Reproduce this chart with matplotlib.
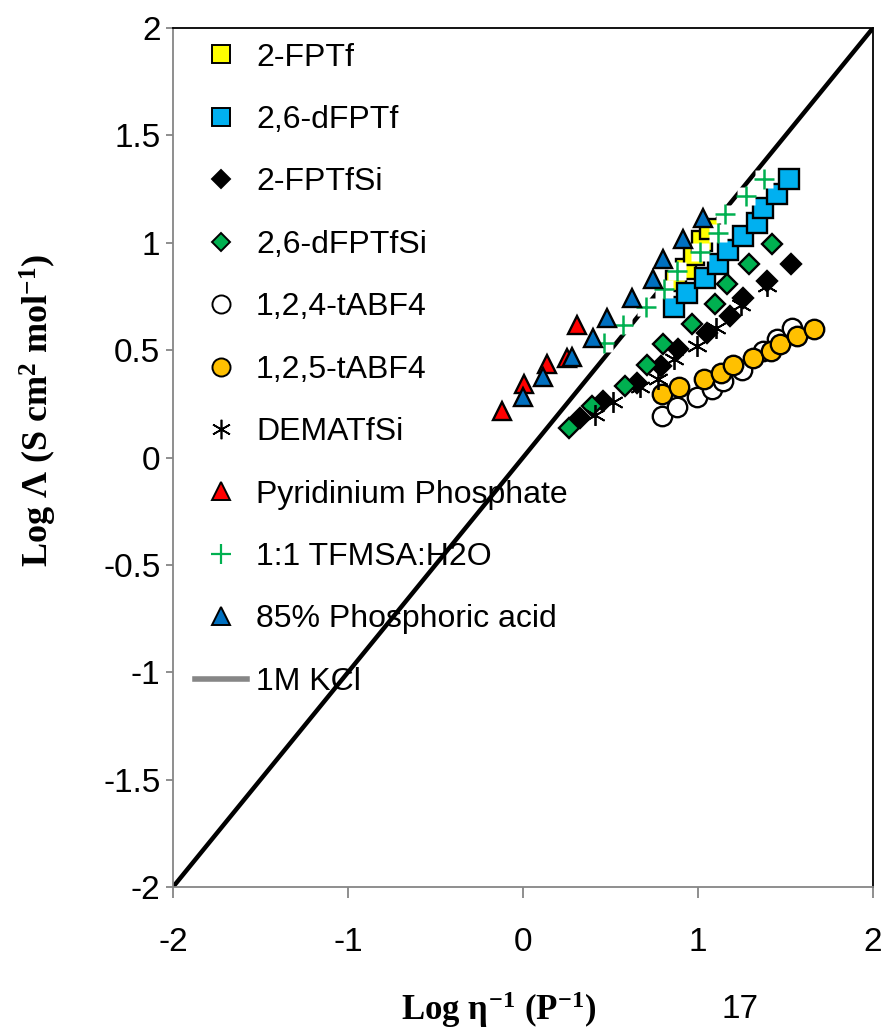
import matplotlib
matplotlib.use("Agg")
import matplotlib.pyplot as plt
from matplotlib.lines import Line2D

plt.rcParams['font.family'] = ['Liberation Sans', 'DejaVu Sans']
plt.rcParams['mathtext.fontset'] = 'custom'
plt.rcParams['mathtext.rm'] = 'Liberation Serif:bold'
plt.rcParams['mathtext.it'] = 'Liberation Serif:bold'
plt.rcParams['mathtext.bf'] = 'Liberation Serif:bold'

# Log(1/viscosity) vs Log(molar conductivity) for each electrolyte
fptf_x = [0.874, 0.931, 0.977, 1.023, 1.069]
fptf_y = [0.822, 0.879, 0.944, 1.009, 1.065]

dfptf_x = [0.863, 0.937, 1.040, 1.114, 1.171, 1.257, 1.337, 1.371, 1.451, 1.520]
dfptf_y = [0.701, 0.766, 0.836, 0.902, 0.967, 1.033, 1.093, 1.164, 1.229, 1.299]

fptfsi_x = [0.326, 0.457, 0.651, 0.789, 0.886, 1.051, 1.183, 1.257, 1.394, 1.531]
fptfsi_y = [0.182, 0.262, 0.346, 0.425, 0.505, 0.579, 0.659, 0.743, 0.822, 0.902]

dfptfsi_x = [0.263, 0.394, 0.583, 0.709, 0.800, 0.966, 1.097, 1.166, 1.291, 1.423]
dfptfsi_y = [0.136, 0.238, 0.332, 0.430, 0.528, 0.621, 0.715, 0.808, 0.902, 0.995]

tabf4_124_x = [0.794, 0.880, 0.994, 1.080, 1.143, 1.251, 1.371, 1.451, 1.537]
tabf4_124_y = [0.192, 0.234, 0.280, 0.318, 0.355, 0.407, 0.495, 0.551, 0.603]

tabf4_125_x = [0.794, 0.891, 1.034, 1.131, 1.200, 1.314, 1.417, 1.469, 1.566, 1.663]
tabf4_125_y = [0.294, 0.327, 0.364, 0.393, 0.430, 0.463, 0.495, 0.528, 0.565, 0.598]

demat_x = [0.411, 0.514, 0.669, 0.771, 0.863, 0.994, 1.103, 1.246, 1.394]
demat_y = [0.200, 0.257, 0.327, 0.364, 0.458, 0.519, 0.603, 0.710, 0.799]

pyr_x = [-0.120, 0.006, 0.137, 0.251, 0.309]
pyr_y = [0.215, 0.341, 0.435, 0.463, 0.617]

tfmsa_x = [0.463, 0.571, 0.703, 0.806, 0.880, 1.011, 1.114, 1.154, 1.274, 1.377]
tfmsa_y = [0.533, 0.617, 0.701, 0.785, 0.869, 0.958, 1.047, 1.136, 1.220, 1.299]

h3po4_x = [0.000, 0.114, 0.280, 0.400, 0.480, 0.623, 0.743, 0.800, 0.914, 1.029]
h3po4_y = [0.280, 0.374, 0.467, 0.556, 0.650, 0.743, 0.832, 0.925, 1.019, 1.117]

kcl_x = [-2, 2]
kcl_y = [-2, 2]

x_ticks = [-2, -1, 0, 1, 2]
y_ticks = [-2, -1.5, -1, -0.5, 0, 0.5, 1, 1.5, 2]

fig = plt.figure(figsize=(8.87, 10.31), dpi=100)
ax = fig.add_axes([173 / 887, 1 - 887 / 1031, 700 / 887, 859 / 1031])

ax.plot(kcl_x, kcl_y, color='black', lw=3.2, zorder=1, solid_capstyle='butt')

ek = dict(linestyle='none', markeredgecolor='black', markeredgewidth=1.7)
ax.plot(fptf_x, fptf_y, marker='s', ms=14, markerfacecolor='#FFFF00', zorder=2, **ek)
ax.plot(dfptf_x, dfptf_y, marker='s', ms=14, markerfacecolor='#00B0F0', zorder=3, **ek)
ax.plot(fptfsi_x, fptfsi_y, marker='D', ms=10, markerfacecolor='black', zorder=4, **ek)
ax.plot(dfptfsi_x, dfptfsi_y, marker='D', ms=10, markerfacecolor='#00B050', zorder=5, **ek)
ax.plot(tabf4_124_x, tabf4_124_y, marker='o', ms=14, markerfacecolor='white', zorder=6, **ek)
ax.plot(tabf4_125_x, tabf4_125_y, marker='o', ms=14, markerfacecolor='#FFC000', zorder=7, **ek)
ax.plot(demat_x, demat_y, marker=(6, 2, 0), ms=15, color='black', mew=1.3,
        linestyle='none', zorder=8)
ax.plot(pyr_x, pyr_y, marker='^', ms=13.5, markerfacecolor='#FF0000', zorder=9, **ek)
# plus markers sit on a white backing square
ax.plot(tfmsa_x, tfmsa_y, marker='s', ms=13, markerfacecolor='white',
        markeredgecolor='none', linestyle='none', zorder=10)
ax.plot(tfmsa_x, tfmsa_y, marker='+', ms=15, color='#00B050', mew=1.8,
        linestyle='none', zorder=10.5)
ax.plot(h3po4_x, h3po4_y, marker='^', ms=13.5, markerfacecolor='#0070C0', zorder=11, **ek)

ax.set_xlim(-2, 2)
ax.set_ylim(-2, 2)
ax.set_xticks(x_ticks)
ax.set_yticks(y_ticks)
ax.set_xticklabels([f"{t:g}" for t in x_ticks])
ax.set_yticklabels([f"{t:g}" for t in y_ticks])
ax.tick_params(axis='both', labelsize=24, color='#868686', width=1.3)
ax.tick_params(axis='x', direction='out', length=8, pad=21)
ax.tick_params(axis='y', direction='out', length=5, pad=4)

for side in ('left', 'bottom'):
    ax.spines[side].set_color('#868686')
    ax.spines[side].set_linewidth(1.3)
for side in ('top', 'right'):
    ax.spines[side].set_color('black')
    ax.spines[side].set_linewidth(1.3)

handles = [
    Line2D([], [], marker='s', ms=13, mfc='#FFFF00', mec='black', mew=1.4, ls='none'),
    Line2D([], [], marker='s', ms=13, mfc='#00B0F0', mec='black', mew=1.4, ls='none'),
    Line2D([], [], marker='D', ms=9.5, mfc='black', mec='black', mew=1.4, ls='none'),
    Line2D([], [], marker='D', ms=9.5, mfc='#00B050', mec='black', mew=1.4, ls='none'),
    Line2D([], [], marker='o', ms=13, mfc='white', mec='black', mew=1.4, ls='none'),
    Line2D([], [], marker='o', ms=13, mfc='#FFC000', mec='black', mew=1.4, ls='none'),
    Line2D([], [], marker=(6, 2, 0), ms=14, color='black', mew=1.2, ls='none'),
    Line2D([], [], marker='^', ms=13, mfc='#FF0000', mec='black', mew=1.4, ls='none'),
    Line2D([], [], marker='+', ms=14, color='#00B050', mew=1.6, ls='none'),
    Line2D([], [], marker='^', ms=13, mfc='#0070C0', mec='black', mew=1.4, ls='none'),
    Line2D([], [], color='#868686', lw=4),
]
labels = ['2-FPTf', '2,6-dFPTf', '2-FPTfSi', '2,6-dFPTfSi', '1,2,4-tABF4',
          '1,2,5-tABF4', 'DEMATfSi', 'Pyridinium Phosphate', '1:1 TFMSA:H2O',
          '85% Phosphoric acid', '1M KCl']
leg = ax.legend(handles, labels, loc='upper left', bbox_to_anchor=(0.031, 0.983),
                frameon=False, fontsize=23, labelspacing=1.015, handlelength=1.65,
                handletextpad=0.27, borderpad=0, borderaxespad=0)
leg.set_zorder(20)

fig.text(38 / 887, 1 - 410 / 1031, r"Log $\Lambda$ (S cm$^{2}$ mol$^{\mathregular{-1}}$)",
         rotation=90, ha='center', va='center', fontsize=26,
         family='Liberation Serif', weight='bold')
fig.text(499 / 887, 1 - 1010 / 1031, r"Log $\eta^{\mathregular{-1}}$ (P$^{\mathregular{-1}}$)",
         ha='center', va='center', fontsize=25, family='Liberation Serif', weight='bold')
fig.text(740 / 887, 1 - 1010 / 1031, "17", ha='center', va='center', fontsize=24)

fig.savefig("out.png", dpi=100)
